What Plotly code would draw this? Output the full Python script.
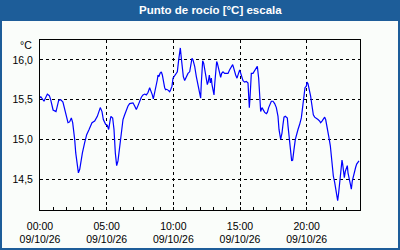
import pandas as pd
import plotly.graph_objects as go

TITLE = "Punto de rocío [°C] escala"
UNIT = "°C"
DAY = "2026-10-09"

hours = [0.0, 0.05, 0.3, 0.55, 0.7, 0.8, 0.98, 1.2, 1.4, 1.55, 1.72, 1.85, 2.0, 2.1, 2.22, 2.35, 2.45, 2.5,
         2.6, 2.68, 2.78, 2.88, 2.98, 3.05, 3.18, 3.35, 3.5, 3.68, 3.9, 4.1, 4.3, 4.52, 4.65, 4.75, 4.92,
         5.05, 5.15, 5.25, 5.32, 5.45, 5.55, 5.65, 5.75, 5.85, 5.98, 6.1, 6.225, 6.35, 6.475, 6.6, 6.725,
         6.85, 6.975, 7.1, 7.225, 7.35, 7.475, 7.6, 7.725, 7.85, 7.975, 8.1, 8.225, 8.35, 8.425, 8.5, 8.6,
         8.725, 8.8, 8.85, 8.925, 9.0, 9.1, 9.175, 9.25, 9.35, 9.425, 9.5, 9.6, 9.725, 9.8, 9.9, 9.975,
         10.1, 10.2, 10.3, 10.4, 10.475, 10.525, 10.6, 10.675, 10.75, 10.85, 10.975, 11.1, 11.225, 11.3,
         11.4, 11.475, 11.6, 11.725, 11.85, 11.925, 12.0, 12.05, 12.1, 12.15, 12.2, 12.275, 12.35, 12.425,
         12.5, 12.55, 12.625, 12.7, 12.775, 12.85, 12.9, 12.975, 13.05, 13.1, 13.175, 13.25, 13.3, 13.4,
         13.475, 13.55, 13.625, 13.725, 13.85, 13.975, 14.1, 14.225, 14.35, 14.45, 14.525, 14.6, 14.675,
         14.775, 14.85, 14.925, 14.975, 15.05, 15.125, 15.225, 15.35, 15.475, 15.6, 15.65, 15.7, 15.75,
         15.8, 15.85, 15.975, 16.1, 16.225, 16.3, 16.4, 16.45, 16.5, 16.55, 16.65, 16.75, 16.85, 16.975,
         17.05, 17.15, 17.25, 17.35, 17.475, 17.6, 17.725, 17.85, 17.925, 17.975, 18.05, 18.1, 18.15,
         18.225, 18.3, 18.4, 18.55, 18.6, 18.675, 18.75, 18.8, 18.875, 18.95, 19.0, 19.05, 19.15, 19.225,
         19.35, 19.475, 19.6, 19.675, 19.75, 19.8, 19.875, 19.975, 20.025, 20.1, 20.175, 20.25, 20.3,
         20.35, 20.425, 20.5, 20.6, 20.725, 20.85, 20.975, 21.05, 21.15, 21.25, 21.35, 21.425, 21.5, 21.6,
         21.675, 21.775, 21.85, 21.925, 22.0, 22.1, 22.175, 22.25, 22.325, 22.4, 22.475, 22.55, 22.6,
         22.65, 22.7, 22.75, 22.825, 22.9, 22.975, 23.05, 23.1, 23.15, 23.225, 23.3, 23.35, 23.425, 23.5,
         23.575, 23.675, 23.75, 23.85, 23.925]

dew_point = [15.52, 15.54, 15.48, 15.57, 15.55, 15.50, 15.37, 15.35, 15.49, 15.50, 15.47, 15.375, 15.27,
             15.21, 15.22, 15.27, 15.21, 15.15, 15.0, 14.83, 14.67, 14.58, 14.625, 14.71, 14.83, 14.96,
             15.06, 15.125, 15.21, 15.23, 15.29, 15.40, 15.35, 15.25, 15.19, 15.175, 15.125, 15.23, 15.29,
             15.27, 15.125, 14.83, 14.67, 14.73, 14.92, 15.09, 15.25, 15.31, 15.375, 15.42, 15.45, 15.46,
             15.46, 15.42, 15.375, 15.425, 15.48, 15.53, 15.56, 15.57, 15.56, 15.59, 15.65, 15.60, 15.56,
             15.51, 15.58, 15.67, 15.75, 15.81, 15.79, 15.83, 15.85, 15.81, 15.73, 15.65, 15.625, 15.63,
             15.62, 15.60, 15.625, 15.67, 15.77, 15.80, 15.81, 15.85, 16.0, 16.08, 16.15, 16.02, 15.875,
             15.79, 15.74, 15.79, 15.83, 15.85, 15.94, 16.02, 16.0, 15.92, 15.79, 15.69, 15.625, 15.56,
             15.52, 15.71, 15.92, 15.99, 15.96, 15.875, 15.79, 15.73, 15.69, 15.73, 15.81, 15.71, 15.77,
             15.69, 15.625, 15.56, 15.69, 15.85, 15.98, 15.96, 15.90, 15.83, 15.78, 15.83, 15.85, 15.83,
             15.83, 15.83, 15.875, 15.92, 15.94, 15.90, 15.83, 15.81, 15.77, 15.83, 15.85, 15.875, 15.83,
             15.77, 15.74, 15.72, 15.73, 15.71, 15.5, 15.40, 15.52, 15.73, 15.83, 15.83, 15.87, 15.90,
             15.92, 15.77, 15.625, 15.48, 15.35, 15.40, 15.37, 15.34, 15.325, 15.34, 15.40, 15.45, 15.48,
             15.48, 15.45, 15.40, 15.29, 15.125, 15.04, 15.0, 15.04, 15.08, 15.19, 15.28, 15.29, 15.27,
             15.17, 15.04, 14.92, 14.81, 14.73, 14.74, 14.79, 14.875, 15.0, 15.06, 15.125, 15.19, 15.27,
             15.375, 15.49, 15.58, 15.65, 15.67, 15.72, 15.70, 15.65, 15.60, 15.54, 15.48, 15.40, 15.31,
             15.28, 15.27, 15.25, 15.23, 15.21, 15.23, 15.25, 15.28, 15.25, 15.19, 15.10, 15.02, 14.92,
             14.79, 14.67, 14.54, 14.46, 14.375, 14.29, 14.23, 14.33, 14.46, 14.58, 14.69, 14.74, 14.69,
             14.60, 14.52, 14.60, 14.65, 14.67, 14.58, 14.52, 14.48, 14.42, 14.375, 14.48, 14.54, 14.60,
             14.65, 14.69, 14.72, 14.73]

y_ticks = [14.5, 15.0, 15.5, 16.0]
y_range = [14.1125, 16.25]

t0 = pd.Timestamp(DAY)
times = t0 + pd.to_timedelta(hours, unit="h")

W, H = 400, 250
ML, MR, MT, MB = 40, 40, 40, 40
PW, PH = W - ML - MR, H - MT - MB
BLUE = "#1d5d99"
BG = "#fafdfa"
FONT = "Liberation Sans"


def px(x):
    return (x - ML) / PW


def py(y):
    return (H - MB - y) / PH


fig = go.Figure()
fig.add_trace(go.Scatter(x=times, y=dew_point, mode="lines",
                         line=dict(color="#0000ff", width=1.2), hoverinfo="skip"))

fig.update_layout(
    width=W, height=H,
    margin=dict(l=ML, r=MR, t=MT, b=MB, autoexpand=False),
    paper_bgcolor=BG, plot_bgcolor=BG,
    showlegend=False,
    separators=",.",
    font=dict(family=FONT, size=10.5, color="#000000"),
    xaxis=dict(
        type="date", automargin=False,
        range=[t0, t0 + pd.Timedelta(hours=24)],
        tick0=t0, dtick=5 * 3600 * 1000,
        tickformat="%H:%M<br>%d/%m/%y",
        ticks="inside", ticklen=3, tickcolor="#000000",
        minor=dict(dtick=3600 * 1000, ticks="inside", ticklen=3, tickcolor="#000000", showgrid=False),
        showgrid=True, gridcolor="#000000", gridwidth=1, griddash="3px,3px",
        showline=True, linecolor="#000000", linewidth=1, mirror=True,
        zeroline=False, ticklabelstandoff=6,
        tickfont=dict(family=FONT, size=10.5, color="#000000"),
    ),
    yaxis=dict(
        automargin=False,
        range=y_range, tickvals=y_ticks, tickformat=".1f",
        ticks="", showgrid=True, gridcolor="#000000", gridwidth=1, griddash="3px,3px",
        showline=True, linecolor="#000000", linewidth=1, mirror=True,
        zeroline=False, ticklabelstandoff=4,
    ),
    shapes=[
        dict(type="rect", xref="paper", yref="paper", x0=px(0), x1=px(W), y0=py(0), y1=py(21),
             fillcolor=BLUE, line=dict(width=0), layer="below"),
        dict(type="rect", xref="paper", yref="paper", x0=px(1), x1=px(W - 1), y0=py(1), y1=py(H - 1),
             fillcolor="rgba(0,0,0,0)", line=dict(color=BLUE, width=2)),
    ],
    annotations=[
        dict(text="<b>" + TITLE + "</b>", xref="paper", yref="paper", x=px(210), y=py(10.5),
             xanchor="center", yanchor="middle", showarrow=False,
             font=dict(family=FONT, size=11.5, color="#ffffff")),
        dict(text=UNIT, xref="paper", yref="paper", x=px(34), y=py(45),
             xanchor="right", yanchor="middle", showarrow=False,
             font=dict(family=FONT, size=10.5, color="#000000")),
    ],
)

fig.write_html("out.html")
